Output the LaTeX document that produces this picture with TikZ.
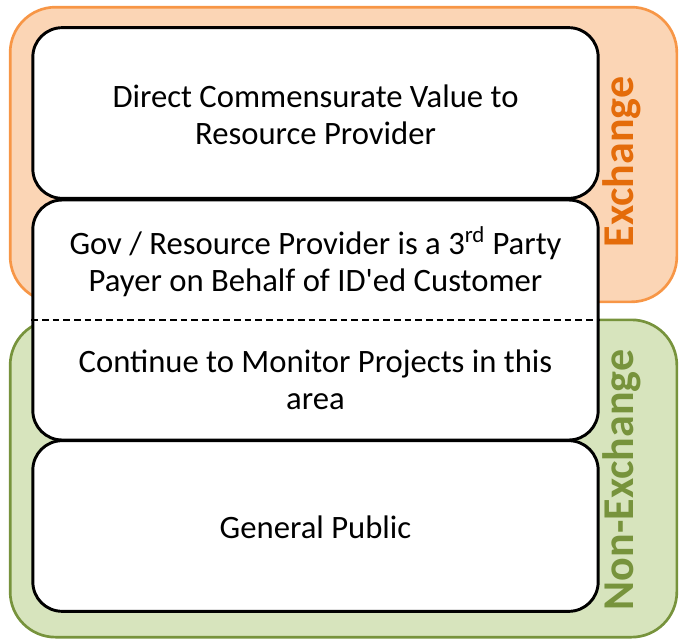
\documentclass[tikz,border=0pt]{standalone}
\usepackage{fontspec}
\setmainfont{Carlito}
\usetikzlibrary{positioning}
\definecolor{exfill}{HTML}{FBD5B5}
\definecolor{exline}{HTML}{F79646}
\definecolor{extext}{HTML}{E46C0A}
\definecolor{nxfill}{HTML}{D7E4BD}
\definecolor{nxline}{HTML}{77933C}
\tikzset{
	zone/.style={
			draw=#1line, fill=#1fill, line width=2pt,
			rounded corners=34pt, minimum width=500pt, inner sep=0pt
		},
	level/.style={
			draw=black, fill=white, line width=2.2pt,
			rounded corners=22pt, minimum width=424pt, inner sep=0pt
		},
	caption/.style={
			align=center, font=\fontsize{24.5}{27.5}\selectfont
		},
	side/.style={
			rotate=90, font=\fontsize{33}{36}\selectfont\bfseries
		}
}

\begin{document}
\begin{tikzpicture}[x=0.75pt, y=-0.75pt]
    \useasboundingbox (0,0) rectangle (682,639);

    % background zones
    \node[zone=ex, minimum height=221pt] (exchange) at (343.5,154.5) {};
    \node[zone=nx, minimum height=238pt] (nonexchange) at (343.5,478.5) {};

    % white levels
    \node[level, minimum height=128pt] (direct) at (315.5,113) {};
    \node[level, minimum height=180pt] (thirdparty) at (315.5,320) {};
    \node[level, minimum height=128pt] (public) at (315.5,526) {};
    \draw[dash pattern=on 5pt off 3pt, line width=1pt] (thirdparty.west) -- (thirdparty.east);

    % texts
    \node[caption] (directtext) at (315.5,115) {Direct Commensurate Value to\\Resource Provider};
    \node[caption] (payertext) at (315.5,262) {Gov / Resource Provider is a 3\textsuperscript{rd} Party\\Payer on Behalf of ID\textquotesingle ed Customer};
    \node[caption] (monitortext) at (315.5,380) {Continue to Monitor Projects in this\\area};
    \node[caption] (publictext) at (315.5,527) {General Public};

    % side labels
    \node[side, text=extext] (exlabel) at (622,162) {Exchange};
    \node[side, text=nxline] (nxlabel) at (622,480) {Non-Exchange};
\end{tikzpicture}
\end{document}
